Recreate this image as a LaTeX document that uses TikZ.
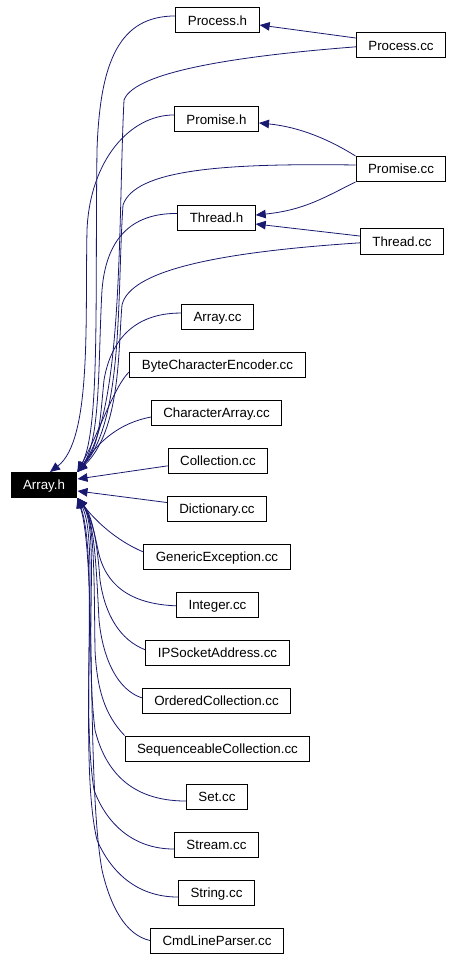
\documentclass[tikz,border=0pt]{standalone}
\usepackage{fontspec}
\setmainfont{Liberation Sans}
\usetikzlibrary{arrows.meta}
\definecolor{edgeblue}{HTML}{191970}

\begin{document}
\begin{tikzpicture}[x=0.75pt,y=-0.75pt,>={Triangle[length=7.5pt,width=6.4pt]},
    file/.style={draw, rectangle, line width=0.75pt, inner xsep=9pt, inner ysep=0pt,
      minimum height=18.75pt, text height=7.2pt, text depth=0pt, font=\fontsize{10}{12}\selectfont},
    dep/.style={->, draw=edgeblue, line width=0.6pt}]
        \useasboundingbox (0,0) rectangle (452,959);

        \node (arrayh) [file, fill=black, text=white] at (44,485) {Array.h};

        % headers and their sources
        \node (processh) [file] at (217.5,20.5) {Process.h};
        \node (processcc) [file] at (401,45.5) {Process.cc};
        \node (promiseh) [file] at (216.5,119.5) {Promise.h};
        \node (promisecc) [file] at (401,169) {Promise.cc};
        \node (threadh) [file] at (216.5,218) {Thread.h};
        \node (threadcc) [file] at (402,241.5) {Thread.cc};

        % sources in one column
        \node (arraycc) [file] at (217.5,316.5) {Array.cc};
        \node (bytecc) [file] at (217.5,365) {ByteCharacterEncoder.cc};
        \node (chararraycc) [file] at (216.5,412.5) {CharacterArray.cc};
        \node (collectioncc) [file] at (218,460.5) {Collection.cc};
        \node (dictionarycc) [file] at (217,508.5) {Dictionary.cc};
        \node (genericcc) [file] at (217,556.5) {GenericException.cc};
        \node (integercc) [file] at (217.5,604.5) {Integer.cc};
        \node (ipsocketcc) [file] at (217.5,652.5) {IPSocketAddress.cc};
        \node (orderedcc) [file] at (216.5,700.5) {OrderedCollection.cc};
        \node (seqcc) [file] at (217.5,748.5) {SequenceableCollection.cc};
        \node (setcc) [file] at (217,796.5) {Set.cc};
        \node (streamcc) [file] at (216.5,844.5) {Stream.cc};
        \node (stringcc) [file] at (216.5,892.5) {String.cc};
        \node (cmdlinecc) [file] at (217,940.5) {CmdLineParser.cc};

        % header includes
        \draw[dep] ([yshift=5.6pt]processcc.west) -- ([yshift=-3.4pt]processh.east);
        \draw[dep] (promisecc.north west) .. controls (330,140) and (300,127) .. ([yshift=-2.6pt]promiseh.east);
        \draw[dep] (promisecc.south west) .. controls (325,197) and (305,210) .. ([yshift=2.2pt]threadh.east);
        \draw[dep] ([yshift=4.1pt]threadcc.west) -- ([yshift=-4.5pt]threadh.east);

        % upper group into Array.h
        \draw[dep] ([yshift=3.4pt]processh.west) .. controls (120,16) and (100,60) .. (97,150)
            .. controls (95,300) and (100,430) .. (arrayh.north east);
        \draw[dep] ([yshift=-1pt]processcc.west) .. controls (250,55) and (135,70) .. (124,100)
            .. controls (118,220) and (124,410) .. (arrayh.north east);
        \draw[dep] ([yshift=3.4pt]promiseh.west) .. controls (130,115) and (90,160) .. (87,230)
            .. controls (85,320) and (92,440) .. ([xshift=4.5pt]arrayh.north);
        \draw[dep] ([yshift=3pt]promisecc.west) .. controls (220,163) and (135,170) .. (123,205)
            .. controls (117,290) and (124,420) .. (arrayh.north east);
        \draw[dep] ([yshift=3.4pt]threadh.west) .. controls (130,213) and (106,240) .. (102,290)
            .. controls (98,360) and (101,440) .. (arrayh.north east);
        \draw[dep] ([yshift=-1pt]threadcc.west) .. controls (220,252) and (130,270) .. (122,305)
            .. controls (118,350) and (121,430) .. (arrayh.north east);
        \draw[dep] ([yshift=2.6pt]arraycc.west) .. controls (130,313) and (110,345) .. (104,380)
            .. controls (100,420) and (100,445) .. (arrayh.north east);
        \draw[dep] ([yshift=-5pt]bytecc.west) .. controls (115,385) and (100,430) .. (arrayh.north east);
        \draw[dep] ([yshift=-3.4pt]chararraycc.west) .. controls (120,423) and (100,440) .. (arrayh.north east);

        % straight ones
        \draw[dep] ([yshift=-4pt]collectioncc.west) -- ([yshift=4.5pt]arrayh.east);
        \draw[dep] ([yshift=4.5pt]dictionarycc.west) -- ([yshift=-4.5pt]arrayh.east);

        % lower group into Array.h
        \draw[dep] ([yshift=3.4pt]genericcc.west) .. controls (115,540) and (95,520) .. (arrayh.south east);
        \draw[dep] ([yshift=-1pt]integercc.west) .. controls (130,604) and (105,585) .. (98,550)
            .. controls (94,530) and (90,515) .. (arrayh.south east);
        \draw[dep] ([yshift=2pt]ipsocketcc.west) .. controls (120,640) and (105,615) .. (100,580)
            .. controls (97,540) and (92,515) .. (arrayh.south east);
        \draw[dep] ([yshift=2pt]orderedcc.west) .. controls (118,690) and (103,660) .. (99,620)
            .. controls (96,560) and (94,520) .. (arrayh.south east);
        \draw[dep] (seqcc.north west) .. controls (105,715) and (97,690) .. (95,650)
            .. controls (94,580) and (95,520) .. (arrayh.south east);
        \draw[dep] ([yshift=-3.4pt]setcc.west) .. controls (130,801) and (105,770) .. (95,730)
            .. controls (84,640) and (100,530) .. (arrayh.south east);
        \draw[dep] ([yshift=-3.4pt]streamcc.west) .. controls (130,849) and (105,820) .. (94,790)
            .. controls (80,700) and (100,540) .. (arrayh.south east);
        \draw[dep] ([yshift=-3.4pt]stringcc.west) .. controls (135,897) and (110,870) .. (97,840)
            .. controls (78,760) and (100,560) .. (arrayh.south east);
        \draw[dep] (cmdlinecc.west) .. controls (125,935) and (110,905) .. (102,870)
            .. controls (86,780) and (97,560) .. (arrayh.south east);
    \end{tikzpicture}
\end{document}
